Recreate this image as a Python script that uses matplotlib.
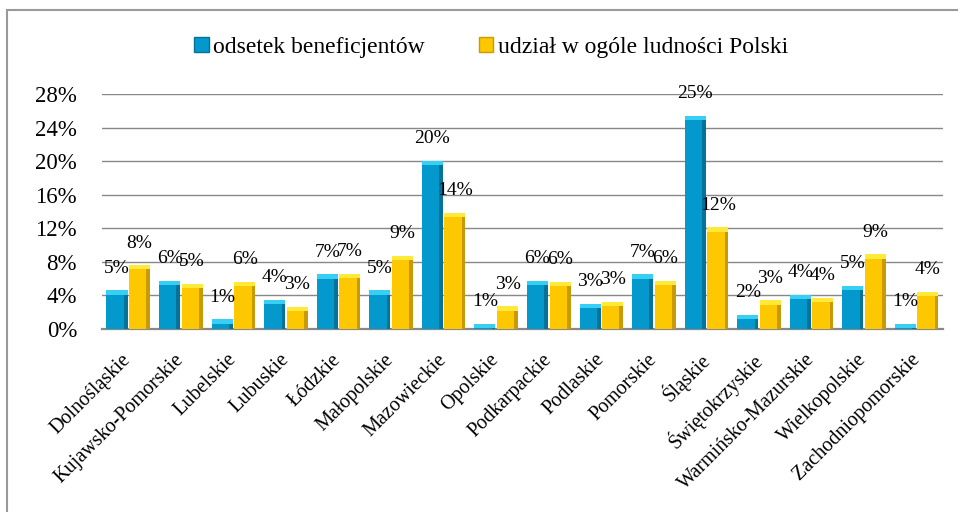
import matplotlib
matplotlib.use("Agg")
import matplotlib.pyplot as plt
from matplotlib.patches import Patch, Rectangle
import numpy as np

plt.rcParams["font.family"] = ["Liberation Serif", "DejaVu Serif"]

regions = ["Dolnośląskie", "Kujawsko-Pomorskie", "Lubelskie", "Lubuskie", "Łódzkie",
           "Małopolskie", "Mazowieckie", "Opolskie", "Podkarpackie", "Podlaskie",
           "Pomorskie", "Śląskie", "Świętokrzyskie", "Warmińsko-Mazurskie",
           "Wielkopolskie", "Zachodniopomorskie"]
beneficjenci = [4.6, 5.7, 1.15, 3.5, 6.5, 4.6, 20.0, 0.6, 5.7, 3.0,
                6.5, 25.4, 1.7, 4.1, 5.1, 0.6]
ludnosc = [7.6, 5.4, 5.6, 2.6, 6.6, 8.7, 13.8, 2.7, 5.6, 3.2,
           5.7, 12.1, 3.4, 3.7, 8.9, 4.4]
yticks = [0, 4, 8, 12, 16, 20, 24, 28]

series = [
    (beneficjenci, -0.215, "#0399CC", "#05729A", "#38CFF5", "odsetek beneficjentów"),
    (ludnosc, 0.215, "#FEC800", "#C99A06", "#FFEA3A", "udział w ogóle ludności Polski"),
]

fig = plt.figure(figsize=(9.58, 5.12), dpi=100)
ax = fig.add_axes([0.1065, 0.3574, 0.8778, 0.459])

x = np.arange(len(regions))
w = 0.40
edge = 0.07
cap = 0.5

for vals, off, base, dark, light, name in series:
    v = np.array(vals)
    ax.bar(x + off, v, width=w, color=base, zorder=3)
    # darker right side for the 3D look
    ax.bar(x + off + w / 2 - edge / 2, v, width=edge, color=dark, zorder=4)
    # lighter top face
    ch = np.minimum(cap, v)
    ax.bar(x + off, ch, bottom=v - ch, width=w, color=light, zorder=5)
    for xi, vi in zip(x + off, v):
        ax.annotate(f"{int(vi + 0.5)}%", (xi, vi), xytext=(0, 16),
                    textcoords="offset points", ha="center", va="center",
                    fontsize=14, zorder=6)

ax.set_xlim(-0.5, len(regions) - 0.5)
ax.set_ylim(0, 28)
ax.set_yticks(yticks)
ax.set_yticklabels([f"{t}%" for t in yticks], fontsize=16.5)
ax.yaxis.grid(True, color="#888888", lw=1.0, zorder=0)
ax.set_axisbelow(True)
ax.tick_params(axis="y", length=0, pad=18)
ax.tick_params(axis="x", length=0, pad=20)
ax.set_xticks(x)
ax.set_xticklabels(regions, rotation=45, ha="right", va="center",
                   rotation_mode="anchor", fontsize=14.5)
for s in ["top", "right", "left"]:
    ax.spines[s].set_visible(False)
ax.spines["bottom"].set_color("#888888")
ax.spines["bottom"].set_linewidth(1.6)

handles = [Patch(facecolor=s[2], edgecolor=s[3], label=s[5]) for s in series]
fig.legend(handles=handles, loc="center", bbox_to_anchor=(0.513, 0.908), ncol=2,
           frameon=False, fontsize=17, handlelength=0.6, handleheight=0.6,
           handletextpad=0.2, columnspacing=2.3)

# outer chart border (only left and top visible in the crop)
fig.patches.append(Rectangle((7 / 958, -0.1), 1.2, 1.0805, transform=fig.transFigure,
                             fill=False, edgecolor="#9a9a9a", lw=1.5))

fig.savefig("out.png", dpi=100)
